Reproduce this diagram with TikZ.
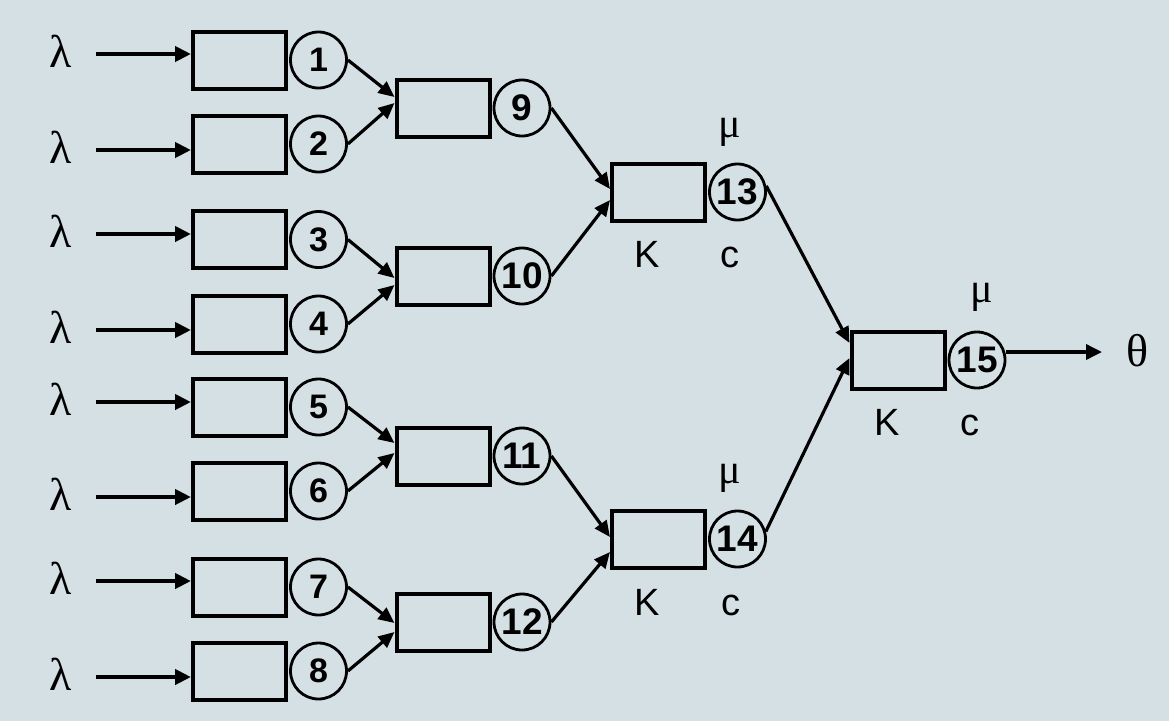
\documentclass[tikz,border=0pt]{standalone}
\usepackage{fontspec}
\setmainfont{Liberation Sans}
\newfontfamily\greekfont{Liberation Serif}
\usetikzlibrary{arrows.meta}
\definecolor{bg}{RGB}{213,224,229}
\begin{document}
\begin{tikzpicture}[x=1pt,y=-1pt,
  qbox/.style={draw, line width=4pt, minimum width=93pt, minimum height=57pt, inner sep=0pt},
  srv/.style={draw, circle, line width=2.8pt, minimum size=56pt, inner sep=0pt, font=\fontsize{34}{34}\selectfont\bfseries},
  srvb/.style={srv, font=\fontsize{37}{37}\selectfont\bfseries},
  inarr/.style={line width=4pt, -{Triangle[length=16pt,width=15pt]}},
  link/.style={line width=3.2pt, -{Triangle[length=16pt,width=14pt]}},
  greek/.style={inner sep=0pt, font=\fontsize{46}{46}\selectfont\greekfont},
  mulab/.style={inner sep=0pt, font=\fontsize{42}{42}\selectfont\greekfont},
  lab/.style={inner sep=0pt, anchor=base, font=\fontsize{38}{38}\selectfont},
]
\fill[bg] (0,0) rectangle (1169,721);
\useasboundingbox (0,0) rectangle (1169,721);

% stage 1
\foreach \i/\y/\d in {1/60/6, 2/144/-6, 3/239.5/5.5, 4/324/-6, 5/407/5, 6/491/-6, 7/587/6, 8/671/-6}{
  \node[qbox] (b\i) at (239.5,\y) {};
  \node[srv] (c\i) at (318.5,\y) {\i};
  \coordinate (s\i) at ({96},{\y-(\d)});
  \node[greek] (l\i) at ({61},{\y-(\d)-3}) {λ};
  \draw[inarr] (s\i) -- ([yshift=\d pt]b\i.west);
}

% stage 2
\node[qbox] (b9)  at (443,108) {};
\node[srvb] (c9)  at (522,108) {9};
\node[qbox] (b10) at (443,276) {};
\node[srvb] (c10) at (522,276) {10};
\node[qbox] (b11) at (443,456) {};
\node[srvb] (c11) at (522,456) {11};
\node[qbox] (b12) at (443,622) {};
\node[srvb] (c12) at (522,622) {12};

% stage 3
\node[qbox] (b13) at (658.5,192) {};
\node[srvb] (c13) at (737.5,192) {13};
\node[qbox] (b14) at (658.5,539) {};
\node[srvb] (c14) at (737.5,539) {14};

% stage 4
\node[qbox] (b15) at (898,360) {};
\node[srvb] (c15) at (977,360) {15};

% labels
\node[mulab] (mu13) at (730,132) {μ};
\node[lab] (k13) at (647,267) {K};
\node[lab] (cc13) at (730,267) {c};
\node[mulab] (mu14) at (730,478) {μ};
\node[lab] (k14) at (647,615) {K};
\node[lab] (cc14) at (731,615) {c};
\node[mulab] (mu15) at (982,297) {μ};
\node[lab] (k15) at (887,435) {K};
\node[lab] (cc15) at (970,435) {c};

% links
\draw[link] (c1.east) -- ([yshift=11pt]b9.west);
\draw[link] (c2.east) -- ([yshift=5pt]b9.west);
\draw[link] (c3.east) -- ([yshift=-2pt]b10.west);
\draw[link] (c4.east) -- ([yshift=-9pt]b10.west);
\draw[link] (c5.east) -- ([yshift=13pt]b11.west);
\draw[link] (c6.east) -- ([yshift=3pt]b11.west);
\draw[link] (c7.east) -- ([yshift=-1pt]b12.west);
\draw[link] (c8.east) -- ([yshift=-10pt]b12.west);
\draw[link] (c9.east) -- ([yshift=3pt]b13.west);
\draw[link] (c10.east) -- ([yshift=-8pt]b13.west);
\draw[link] (c11.east) -- ([yshift=2pt]b14.west);
\draw[link] (c12.east) -- ([yshift=-13pt]b14.west);
\draw[link] (c13.12) -- ([yshift=17pt]b15.west);
\draw[link] (c14.15) -- ([yshift=2pt]b15.west);

% output
\coordinate (e) at (1102,352);
\draw[inarr, line width=3.5pt] (c15.east |- e) -- (e);
\node[greek] (th) at (1137,351) {θ};
\end{tikzpicture}
\end{document}
